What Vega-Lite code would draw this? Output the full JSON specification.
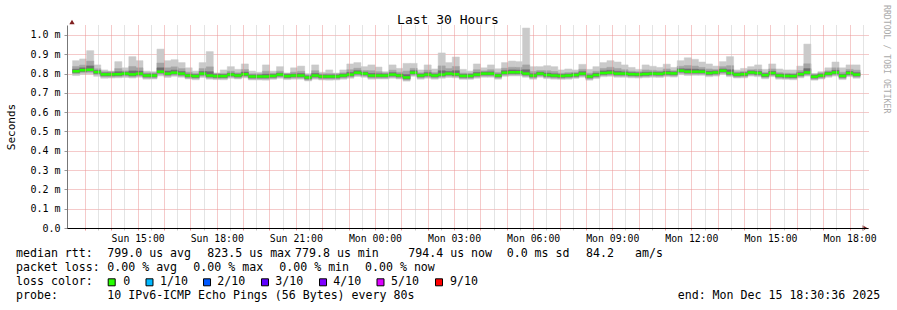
{
  "$schema": "https://vega.github.io/schema/vega-lite/v6.json",
  "autosize": {"type": "none"},
  "width": 801,
  "height": 203,
  "padding": {"left": 67, "top": 25, "right": 29, "bottom": 82},
  "background": "#ffffff",
  "config": {
    "view": {"stroke": null},
    "font": "DejaVu Sans Mono",
    "axis": {"labelFont": "DejaVu Sans Mono", "titleFont": "DejaVu Sans Mono"},
    "axisY": {
      "tickCount": 11,
      "labelExpr": "datum.value == 0 ? '0.0' : format(datum.value, '.1f') + ' m'",
      "labelOverlap": false,
      "labelFont": "DejaVu Sans Mono",
      "labelFontSize": 10,
      "labelColor": "#000000",
      "labelPadding": 4,
      "grid": true,
      "gridColor": "#eb9595",
      "gridDash": [1, 1],
      "gridOpacity": 1,
      "tickSize": 3,
      "tickColor": "#999999",
      "domainColor": "#777777",
      "titleFont": "DejaVu Sans Mono",
      "titleFontSize": 11,
      "titleFontWeight": "normal",
      "titleColor": "#000000",
      "titlePadding": 13,
      "zindex": 1
    }
  },
  "datasets": {
    "smoke": [
      {"t":760,"md":0.812,"mx":0.867,"mn":0.790,"a":0.799,"c":0.805,"d":0.823,"b":0.837},
      {"t":776,"md":0.818,"mx":0.876,"mn":0.796,"a":0.805,"c":0.811,"d":0.830,"b":0.844},
      {"t":792,"md":0.820,"mx":0.919,"mn":0.798,"a":0.807,"c":0.813,"d":0.840,"b":0.865},
      {"t":808,"md":0.808,"mx":0.845,"mn":0.786,"a":0.795,"c":0.801,"d":0.816,"b":0.825},
      {"t":824,"md":0.796,"mx":0.819,"mn":0.776,"a":0.783,"c":0.789,"d":0.804,"b":0.810},
      {"t":840,"md":0.796,"mx":0.813,"mn":0.777,"a":0.783,"c":0.789,"d":0.804,"b":0.810},
      {"t":856,"md":0.797,"mx":0.862,"mn":0.778,"a":0.784,"c":0.790,"d":0.810,"b":0.826},
      {"t":872,"md":0.800,"mx":0.830,"mn":0.780,"a":0.787,"c":0.793,"d":0.808,"b":0.814},
      {"t":888,"md":0.796,"mx":0.888,"mn":0.777,"a":0.783,"c":0.789,"d":0.814,"b":0.837},
      {"t":904,"md":0.800,"mx":0.867,"mn":0.781,"a":0.787,"c":0.793,"d":0.813,"b":0.830},
      {"t":920,"md":0.790,"mx":0.813,"mn":0.771,"a":0.777,"c":0.783,"d":0.798,"b":0.804},
      {"t":936,"md":0.790,"mx":0.810,"mn":0.772,"a":0.777,"c":0.783,"d":0.798,"b":0.804},
      {"t":952,"md":0.810,"mx":0.927,"mn":0.788,"a":0.797,"c":0.803,"d":0.830,"b":0.855},
      {"t":968,"md":0.800,"mx":0.867,"mn":0.780,"a":0.787,"c":0.793,"d":0.813,"b":0.830},
      {"t":984,"md":0.805,"mx":0.872,"mn":0.786,"a":0.792,"c":0.798,"d":0.818,"b":0.835},
      {"t":1000,"md":0.800,"mx":0.857,"mn":0.781,"a":0.787,"c":0.793,"d":0.811,"b":0.826},
      {"t":1016,"md":0.790,"mx":0.830,"mn":0.772,"a":0.777,"c":0.783,"d":0.798,"b":0.808},
      {"t":1032,"md":0.787,"mx":0.813,"mn":0.768,"a":0.774,"c":0.780,"d":0.795,"b":0.801},
      {"t":1048,"md":0.800,"mx":0.857,"mn":0.780,"a":0.787,"c":0.793,"d":0.811,"b":0.826},
      {"t":1064,"md":0.790,"mx":0.914,"mn":0.771,"a":0.777,"c":0.783,"d":0.810,"b":0.835},
      {"t":1080,"md":0.787,"mx":0.803,"mn":0.769,"a":0.774,"c":0.780,"d":0.795,"b":0.801},
      {"t":1096,"md":0.787,"mx":0.819,"mn":0.768,"a":0.774,"c":0.780,"d":0.795,"b":0.801},
      {"t":1112,"md":0.795,"mx":0.836,"mn":0.776,"a":0.782,"c":0.788,"d":0.803,"b":0.813},
      {"t":1128,"md":0.790,"mx":0.822,"mn":0.772,"a":0.777,"c":0.783,"d":0.798,"b":0.804},
      {"t":1144,"md":0.797,"mx":0.850,"mn":0.778,"a":0.784,"c":0.790,"d":0.808,"b":0.821},
      {"t":1160,"md":0.785,"mx":0.813,"mn":0.767,"a":0.772,"c":0.778,"d":0.793,"b":0.799},
      {"t":1176,"md":0.785,"mx":0.807,"mn":0.767,"a":0.772,"c":0.778,"d":0.793,"b":0.799},
      {"t":1192,"md":0.785,"mx":0.845,"mn":0.766,"a":0.772,"c":0.778,"d":0.797,"b":0.812},
      {"t":1208,"md":0.788,"mx":0.813,"mn":0.770,"a":0.775,"c":0.781,"d":0.796,"b":0.802},
      {"t":1224,"md":0.795,"mx":0.836,"mn":0.776,"a":0.782,"c":0.788,"d":0.803,"b":0.813},
      {"t":1240,"md":0.787,"mx":0.803,"mn":0.769,"a":0.774,"c":0.780,"d":0.795,"b":0.801},
      {"t":1256,"md":0.790,"mx":0.830,"mn":0.771,"a":0.777,"c":0.783,"d":0.798,"b":0.808},
      {"t":1272,"md":0.790,"mx":0.839,"mn":0.771,"a":0.777,"c":0.783,"d":0.800,"b":0.812},
      {"t":1288,"md":0.780,"mx":0.800,"mn":0.762,"a":0.767,"c":0.773,"d":0.788,"b":0.794},
      {"t":1304,"md":0.790,"mx":0.845,"mn":0.771,"a":0.777,"c":0.783,"d":0.801,"b":0.815},
      {"t":1320,"md":0.785,"mx":0.807,"mn":0.767,"a":0.772,"c":0.778,"d":0.793,"b":0.799},
      {"t":1336,"md":0.785,"mx":0.819,"mn":0.766,"a":0.772,"c":0.778,"d":0.793,"b":0.800},
      {"t":1352,"md":0.785,"mx":0.803,"mn":0.767,"a":0.772,"c":0.778,"d":0.793,"b":0.799},
      {"t":1368,"md":0.790,"mx":0.819,"mn":0.771,"a":0.777,"c":0.783,"d":0.798,"b":0.804},
      {"t":1384,"md":0.795,"mx":0.850,"mn":0.776,"a":0.782,"c":0.788,"d":0.806,"b":0.820},
      {"t":1400,"md":0.805,"mx":0.857,"mn":0.785,"a":0.792,"c":0.798,"d":0.815,"b":0.828},
      {"t":1416,"md":0.800,"mx":0.836,"mn":0.781,"a":0.787,"c":0.793,"d":0.808,"b":0.816},
      {"t":1432,"md":0.790,"mx":0.845,"mn":0.771,"a":0.777,"c":0.783,"d":0.801,"b":0.815},
      {"t":1448,"md":0.790,"mx":0.834,"mn":0.772,"a":0.777,"c":0.783,"d":0.799,"b":0.810},
      {"t":1464,"md":0.790,"mx":0.810,"mn":0.772,"a":0.777,"c":0.783,"d":0.798,"b":0.804},
      {"t":1480,"md":0.795,"mx":0.845,"mn":0.776,"a":0.782,"c":0.788,"d":0.805,"b":0.818},
      {"t":1496,"md":0.790,"mx":0.827,"mn":0.772,"a":0.777,"c":0.783,"d":0.798,"b":0.807},
      {"t":1512,"md":0.780,"mx":0.853,"mn":0.761,"a":0.767,"c":0.773,"d":0.795,"b":0.813},
      {"t":1528,"md":0.805,"mx":0.853,"mn":0.786,"a":0.792,"c":0.798,"d":0.815,"b":0.827},
      {"t":1544,"md":0.790,"mx":0.819,"mn":0.771,"a":0.777,"c":0.783,"d":0.798,"b":0.804},
      {"t":1560,"md":0.795,"mx":0.845,"mn":0.776,"a":0.782,"c":0.788,"d":0.805,"b":0.818},
      {"t":1576,"md":0.790,"mx":0.824,"mn":0.771,"a":0.777,"c":0.783,"d":0.798,"b":0.805},
      {"t":1592,"md":0.795,"mx":0.907,"mn":0.776,"a":0.782,"c":0.788,"d":0.815,"b":0.840},
      {"t":1608,"md":0.800,"mx":0.857,"mn":0.780,"a":0.787,"c":0.793,"d":0.811,"b":0.826},
      {"t":1624,"md":0.797,"mx":0.886,"mn":0.778,"a":0.784,"c":0.790,"d":0.815,"b":0.837},
      {"t":1640,"md":0.788,"mx":0.822,"mn":0.770,"a":0.775,"c":0.781,"d":0.796,"b":0.803},
      {"t":1656,"md":0.788,"mx":0.813,"mn":0.770,"a":0.775,"c":0.781,"d":0.796,"b":0.802},
      {"t":1672,"md":0.795,"mx":0.850,"mn":0.776,"a":0.782,"c":0.788,"d":0.806,"b":0.820},
      {"t":1688,"md":0.800,"mx":0.830,"mn":0.781,"a":0.787,"c":0.793,"d":0.808,"b":0.814},
      {"t":1704,"md":0.800,"mx":0.845,"mn":0.781,"a":0.787,"c":0.793,"d":0.809,"b":0.820},
      {"t":1720,"md":0.790,"mx":0.825,"mn":0.771,"a":0.777,"c":0.783,"d":0.798,"b":0.806},
      {"t":1736,"md":0.805,"mx":0.857,"mn":0.786,"a":0.792,"c":0.798,"d":0.815,"b":0.828},
      {"t":1752,"md":0.807,"mx":0.865,"mn":0.788,"a":0.794,"c":0.800,"d":0.819,"b":0.833},
      {"t":1768,"md":0.807,"mx":0.862,"mn":0.788,"a":0.794,"c":0.800,"d":0.818,"b":0.832},
      {"t":1784,"md":0.800,"mx":1.036,"mn":0.781,"a":0.787,"c":0.793,"d":0.820,"b":0.845},
      {"t":1800,"md":0.790,"mx":0.836,"mn":0.771,"a":0.777,"c":0.783,"d":0.799,"b":0.811},
      {"t":1816,"md":0.800,"mx":0.836,"mn":0.781,"a":0.787,"c":0.793,"d":0.808,"b":0.816},
      {"t":1832,"md":0.793,"mx":0.841,"mn":0.774,"a":0.780,"c":0.786,"d":0.803,"b":0.815},
      {"t":1848,"md":0.790,"mx":0.836,"mn":0.771,"a":0.777,"c":0.783,"d":0.799,"b":0.811},
      {"t":1864,"md":0.788,"mx":0.819,"mn":0.770,"a":0.775,"c":0.781,"d":0.796,"b":0.802},
      {"t":1880,"md":0.790,"mx":0.824,"mn":0.771,"a":0.777,"c":0.783,"d":0.798,"b":0.805},
      {"t":1896,"md":0.793,"mx":0.819,"mn":0.775,"a":0.780,"c":0.786,"d":0.801,"b":0.807},
      {"t":1912,"md":0.800,"mx":0.848,"mn":0.781,"a":0.787,"c":0.793,"d":0.810,"b":0.822},
      {"t":1928,"md":0.785,"mx":0.822,"mn":0.766,"a":0.772,"c":0.778,"d":0.793,"b":0.802},
      {"t":1944,"md":0.793,"mx":0.836,"mn":0.774,"a":0.780,"c":0.786,"d":0.802,"b":0.812},
      {"t":1960,"md":0.803,"mx":0.857,"mn":0.784,"a":0.790,"c":0.796,"d":0.814,"b":0.827},
      {"t":1976,"md":0.805,"mx":0.867,"mn":0.786,"a":0.792,"c":0.798,"d":0.817,"b":0.833},
      {"t":1992,"md":0.800,"mx":0.860,"mn":0.781,"a":0.787,"c":0.793,"d":0.812,"b":0.827},
      {"t":2008,"md":0.800,"mx":0.845,"mn":0.781,"a":0.787,"c":0.793,"d":0.809,"b":0.820},
      {"t":2024,"md":0.797,"mx":0.832,"mn":0.778,"a":0.784,"c":0.790,"d":0.805,"b":0.813},
      {"t":2040,"md":0.796,"mx":0.822,"mn":0.777,"a":0.783,"c":0.789,"d":0.804,"b":0.810},
      {"t":2056,"md":0.798,"mx":0.845,"mn":0.779,"a":0.785,"c":0.791,"d":0.807,"b":0.819},
      {"t":2072,"md":0.800,"mx":0.838,"mn":0.781,"a":0.787,"c":0.793,"d":0.808,"b":0.817},
      {"t":2088,"md":0.799,"mx":0.832,"mn":0.780,"a":0.786,"c":0.792,"d":0.807,"b":0.814},
      {"t":2104,"md":0.803,"mx":0.849,"mn":0.784,"a":0.790,"c":0.796,"d":0.812,"b":0.824},
      {"t":2120,"md":0.801,"mx":0.832,"mn":0.782,"a":0.788,"c":0.794,"d":0.809,"b":0.815},
      {"t":2136,"md":0.815,"mx":0.867,"mn":0.795,"a":0.802,"c":0.808,"d":0.825,"b":0.838},
      {"t":2152,"md":0.810,"mx":0.882,"mn":0.790,"a":0.797,"c":0.803,"d":0.824,"b":0.842},
      {"t":2168,"md":0.810,"mx":0.874,"mn":0.791,"a":0.797,"c":0.803,"d":0.823,"b":0.839},
      {"t":2184,"md":0.810,"mx":0.860,"mn":0.791,"a":0.797,"c":0.803,"d":0.820,"b":0.832},
      {"t":2200,"md":0.803,"mx":0.850,"mn":0.784,"a":0.790,"c":0.796,"d":0.812,"b":0.824},
      {"t":2216,"md":0.806,"mx":0.839,"mn":0.787,"a":0.793,"c":0.799,"d":0.814,"b":0.821},
      {"t":2232,"md":0.815,"mx":0.862,"mn":0.796,"a":0.802,"c":0.808,"d":0.824,"b":0.836},
      {"t":2248,"md":0.803,"mx":0.888,"mn":0.784,"a":0.790,"c":0.796,"d":0.820,"b":0.841},
      {"t":2264,"md":0.795,"mx":0.819,"mn":0.777,"a":0.782,"c":0.788,"d":0.803,"b":0.809},
      {"t":2280,"md":0.797,"mx":0.827,"mn":0.778,"a":0.784,"c":0.790,"d":0.805,"b":0.811},
      {"t":2296,"md":0.806,"mx":0.836,"mn":0.787,"a":0.793,"c":0.799,"d":0.814,"b":0.820},
      {"t":2312,"md":0.803,"mx":0.845,"mn":0.784,"a":0.790,"c":0.796,"d":0.811,"b":0.822},
      {"t":2328,"md":0.792,"mx":0.822,"mn":0.773,"a":0.779,"c":0.785,"d":0.800,"b":0.806},
      {"t":2344,"md":0.803,"mx":0.850,"mn":0.784,"a":0.790,"c":0.796,"d":0.812,"b":0.824},
      {"t":2360,"md":0.790,"mx":0.824,"mn":0.771,"a":0.777,"c":0.783,"d":0.798,"b":0.805},
      {"t":2376,"md":0.788,"mx":0.819,"mn":0.770,"a":0.775,"c":0.781,"d":0.796,"b":0.802},
      {"t":2392,"md":0.787,"mx":0.819,"mn":0.768,"a":0.774,"c":0.780,"d":0.795,"b":0.801},
      {"t":2408,"md":0.797,"mx":0.839,"mn":0.778,"a":0.784,"c":0.790,"d":0.805,"b":0.816},
      {"t":2424,"md":0.806,"mx":0.953,"mn":0.787,"a":0.793,"c":0.799,"d":0.826,"b":0.851},
      {"t":2440,"md":0.784,"mx":0.800,"mn":0.766,"a":0.771,"c":0.777,"d":0.792,"b":0.798},
      {"t":2456,"md":0.790,"mx":0.810,"mn":0.772,"a":0.777,"c":0.783,"d":0.798,"b":0.804},
      {"t":2472,"md":0.800,"mx":0.830,"mn":0.781,"a":0.787,"c":0.793,"d":0.808,"b":0.814},
      {"t":2488,"md":0.806,"mx":0.860,"mn":0.787,"a":0.793,"c":0.799,"d":0.817,"b":0.830},
      {"t":2504,"md":0.788,"mx":0.830,"mn":0.769,"a":0.775,"c":0.781,"d":0.796,"b":0.807},
      {"t":2520,"md":0.803,"mx":0.845,"mn":0.784,"a":0.790,"c":0.796,"d":0.811,"b":0.822},
      {"t":2536,"md":0.795,"mx":0.845,"mn":0.776,"a":0.782,"c":0.788,"d":0.805,"b":0.818}
    ]
  },
  "layer": [
    {
      "encoding": {
        "x": {
          "field": "t",
          "type": "quantitative",
          "scale": {"domain": [750.6, 2550.6], "nice": false, "zero": false},
          "axis": {
            "title": null,
            "values": [780,810,840,870,900,930,960,990,1020,1050,1080,1110,1140,1170,1200,1230,1260,1290,1320,1350,1380,1410,1440,1470,1500,1530,1560,1590,1620,1650,1680,1710,1740,1770,1800,1830,1860,1890,1920,1950,1980,2010,2040,2070,2100,2130,2160,2190,2220,2250,2280,2310,2340,2370,2400,2430,2460,2490,2520,2550],
            "labelExpr": "datum.value % 180 == 0 ? (datum.value >= 1440 ? 'Mon ' : 'Sun ') + (floor((datum.value % 1440) / 60) < 10 ? '0' : '') + floor((datum.value % 1440) / 60) + ':00' : ''",
            "labelOverlap": false,
            "labelFont": "DejaVu Sans Mono",
            "labelFontSize": 9.8,
            "labelColor": "#000000",
            "labelPadding": 3,
            "grid": true,
            "gridColor": {"condition": {"test": "datum.value % 60 == 0", "value": "#eb9595"}, "value": "#c8c8c8"},
            "gridDash": [1, 1],
            "gridOpacity": 1,
            "ticks": true,
            "tickSize": 2,
            "tickColor": {"condition": {"test": "datum.value % 60 == 0", "value": "#eb9595"}, "value": "#c8c8c8"},
            "domainColor": "#000000",
            "zindex": 1
          }
        }
      },
      "layer": [
        {
          "data": {"name": "smoke"},
          "mark": {"type": "bar", "width": 7.12, "color": "#cacaca", "stroke": "#cacaca", "strokeWidth": 0.5},
          "encoding": {
            "y": {
              "field": "mn",
              "type": "quantitative",
              "title": "Seconds",
              "scale": {"domain": [0, 1.0518], "nice": false, "zero": true},
              "axis": {"values": [0, 0.1, 0.2, 0.3, 0.4, 0.5, 0.6, 0.7, 0.8, 0.9, 1.0], "labelOverlap": false}
            },
            "y2": {"field": "mx"}
          }
        },
        {
          "data": {"name": "smoke"},
          "mark": {"type": "bar", "width": 7.12, "color": "#a4a4a4", "stroke": "#a4a4a4", "strokeWidth": 0.5},
          "encoding": {
            "y": {"field": "a", "type": "quantitative", "title": "Seconds", "axis": {"values": [0, 0.1, 0.2, 0.3, 0.4, 0.5, 0.6, 0.7, 0.8, 0.9, 1.0], "labelOverlap": false}},
            "y2": {"field": "b"}
          }
        },
        {
          "data": {"name": "smoke"},
          "mark": {"type": "bar", "width": 7.12, "color": "#707070", "stroke": "#707070", "strokeWidth": 0.5},
          "encoding": {
            "y": {"field": "c", "type": "quantitative", "title": "Seconds", "axis": {"values": [0, 0.1, 0.2, 0.3, 0.4, 0.5, 0.6, 0.7, 0.8, 0.9, 1.0], "labelOverlap": false}},
            "y2": {"field": "d"}
          }
        },
        {
          "data": {"name": "smoke"},
          "mark": {"type": "tick", "orient": "horizontal", "size": 7.12, "thickness": 2.5, "color": "#26ff00", "opacity": 1},
          "encoding": {
            "y": {"field": "md", "type": "quantitative", "title": "Seconds", "axis": {"values": [0, 0.1, 0.2, 0.3, 0.4, 0.5, 0.6, 0.7, 0.8, 0.9, 1.0], "labelOverlap": false}}
          }
        },
        {
          "data": {"values": [{"t": 750.6, "v": 1.067}]},
          "mark": {"type": "point", "shape": "triangle-up", "filled": true, "size": 28, "color": "#802020", "opacity": 1},
          "encoding": {
            "y": {"field": "v", "type": "quantitative", "title": "Seconds", "axis": {"values": [0, 0.1, 0.2, 0.3, 0.4, 0.5, 0.6, 0.7, 0.8, 0.9, 1.0], "labelOverlap": false}}
          }
        },
        {
          "data": {"values": [{"t": 2555, "v": 0}]},
          "mark": {"type": "point", "shape": "triangle-right", "filled": true, "size": 28, "color": "#802020", "opacity": 1},
          "encoding": {
            "y": {"field": "v", "type": "quantitative", "title": "Seconds", "axis": {"values": [0, 0.1, 0.2, 0.3, 0.4, 0.5, 0.6, 0.7, 0.8, 0.9, 1.0], "labelOverlap": false}}
          }
        }
      ]
    },
    {
      "encoding": {
        "x": {"field": "c", "type": "quantitative", "scale": {"domain": [7.2857, 121.7143], "nice": false, "zero": false}, "axis": null},
        "y": {"field": "ln", "type": "quantitative", "scale": {"domain": [-15.379, -0.879], "reverse": true, "nice": false, "zero": false}, "axis": null}
      },
      "layer": [
        {
          "data": {"values": [
            {"c": 0, "ln": 1, "s": "median rtt:"},
            {"c": 13.04, "ln": 1, "s": "799.0 us avg"},
            {"c": 27.33, "ln": 1, "s": "823.5 us max"},
            {"c": 39.86, "ln": 1, "s": "779.8 us min"},
            {"c": 56.04, "ln": 1, "s": "794.4 us now"},
            {"c": 70.1, "ln": 1, "s": "0.0 ms sd"},
            {"c": 81.43, "ln": 1, "s": "84.2"},
            {"c": 88.43, "ln": 1, "s": "am/s"},
            {"c": 0, "ln": 2, "s": "packet loss:"},
            {"c": 13.04, "ln": 2, "s": "0.00 % avg"},
            {"c": 25.33, "ln": 2, "s": "0.00 % max"},
            {"c": 37.61, "ln": 2, "s": "0.00 % min"},
            {"c": 49.86, "ln": 2, "s": "0.00 % now"},
            {"c": 0, "ln": 3, "s": "loss color:"},
            {"c": 15.33, "ln": 3, "s": "0"},
            {"c": 20.57, "ln": 3, "s": "1/10"},
            {"c": 28.76, "ln": 3, "s": "2/10"},
            {"c": 37.04, "ln": 3, "s": "3/10"},
            {"c": 45.33, "ln": 3, "s": "4/10"},
            {"c": 53.57, "ln": 3, "s": "5/10"},
            {"c": 62, "ln": 3, "s": "9/10"},
            {"c": 0, "ln": 4, "s": "probe:"},
            {"c": 13.04, "ln": 4, "s": "10 IPv6-ICMP Echo Pings (56 Bytes) every 80s"},
            {"c": 94.53, "ln": 4, "s": "end: Mon Dec 15 18:30:36 2025"}
          ]},
          "mark": {"type": "text", "align": "left", "baseline": "middle", "font": "DejaVu Sans Mono", "fontSize": 11.6, "color": "#000000"},
          "encoding": {"text": {"field": "s"}}
        },
        {
          "data": {"values": [{"c": 61.71, "ln": -15.77, "s": "Last 30 Hours"}]},
          "mark": {"type": "text", "align": "center", "baseline": "middle", "font": "DejaVu Sans Mono", "fontSize": 13, "color": "#000000"},
          "encoding": {"text": {"field": "s"}}
        },
        {
          "data": {"values": [
            {"c": 13.67, "ln": 3, "k": "0"},
            {"c": 19.07, "ln": 3, "k": "1/10"},
            {"c": 27.29, "ln": 3, "k": "2/10"},
            {"c": 35.57, "ln": 3, "k": "3/10"},
            {"c": 43.86, "ln": 3, "k": "4/10"},
            {"c": 52.07, "ln": 3, "k": "5/10"},
            {"c": 60.43, "ln": 3, "k": "9/10"}
          ]},
          "mark": {"type": "point", "shape": "square", "filled": true, "size": 49, "stroke": "#000000", "strokeWidth": 1, "opacity": 1},
          "encoding": {
            "fill": {
              "field": "k",
              "type": "nominal",
              "scale": {"domain": ["0", "1/10", "2/10", "3/10", "4/10", "5/10", "9/10"], "range": ["#26ff00", "#00b8ff", "#0059ff", "#5e00ff", "#7e00ff", "#dd00ff", "#ff0000"]},
              "legend": null
            }
          }
        },
        {
          "data": {"values": [{"c": 124.29, "ln": -16.81, "s": "RRDTOOL / TOBI OETIKER"}]},
          "mark": {"type": "text", "align": "left", "baseline": "middle", "angle": 90, "font": "DejaVu Sans Mono", "fontSize": 8.2, "color": "#aaaaaa"},
          "encoding": {"text": {"field": "s"}}
        }
      ]
    }
  ],
  "resolve": {"scale": {"x": "independent", "y": "independent"}}
}
